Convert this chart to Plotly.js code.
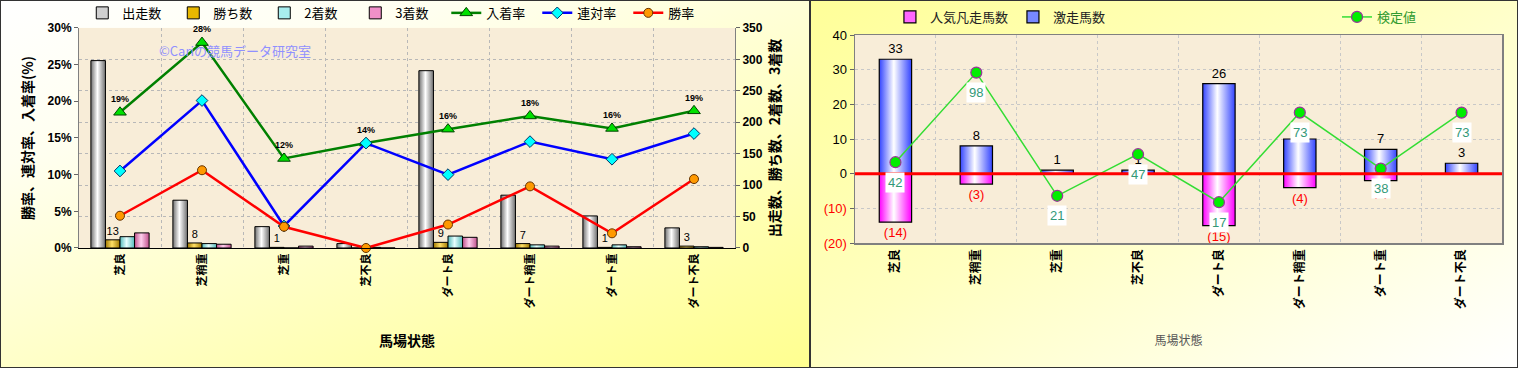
<!DOCTYPE html>
<html><head><meta charset="utf-8">
<script src="https://cdn.plot.ly/plotly-3.0.1.min.js"></script>
<style>
html,body{margin:0;padding:0;width:1518px;height:369px;overflow:hidden;background:#fff}
#frameL{position:absolute;left:0;top:0;width:808px;height:366px;border:1px solid #333;background:linear-gradient(160deg,#ffffff 0%,#fffff0 25%,#ffff90 100%)}
#frameR{position:absolute;left:810px;top:0;width:706px;height:366px;border:1px solid #333;background:linear-gradient(150deg,#ffff99 0%,#ffffc0 45%,#ffffff 100%)}
#left{position:absolute;left:0;top:0;width:810px;height:369px}
#right{position:absolute;left:810px;top:0;width:708px;height:369px}
</style></head>
<body>
<div id="frameL"></div><div id="frameR"></div>
<div id="left"></div><div id="right"></div>
<script>
// ---- data ----
const categories = ['芝良','芝稍重','芝重','芝不良','ダート良','ダート稍重','ダート重','ダート不良'];
const starters = [298, 76, 34, 7, 282, 84, 51, 32];
const wins = [13, 8, 1, 0, 9, 7, 1, 3];
const seconds = [18, 7, 0, 1, 19, 5, 5, 2];
const thirds = [24, 6, 3, 0, 17, 3, 2, 1];
const placeRate = [18.5, 28.0, 12.2, 14.3, 16.2, 18.0, 16.3, 18.7];
const placeRateLabels = ['19%','28%','12%','14%','16%','18%','16%','19%'];
const rentaiRate = [10.5, 20.1, 3.0, 14.3, 10.0, 14.5, 12.1, 15.6];
const winRate = [4.4, 10.6, 2.9, 0, 3.2, 8.4, 2.0, 9.4];

const hotCount = [33, 8, 1, 1, 26, 10, 7, 3];
const popularFail = [-14, -3, 0, 0, -15, -4, -2, 0];
const testValue = [42, 98, 21, 47, 17, 73, 38, 73];

const rightTickVals = [-20, -10, 0, 10, 20, 30, 40];
const rightTickText = ['<span style="color:#ff0000">(20)</span>','<span style="color:#ff0000">(10)</span>','0','10','20','30','40'];

const JP = '"Noto Sans CJK JP", "Liberation Sans", sans-serif';
const NUM = '"Liberation Sans", "Noto Sans CJK JP", sans-serif';

// ---- left chart ----
const barLine = {color:'#000', width:1};
const leftData = [
  {type:'bar', name:'出走数', x:categories, y:starters, yaxis:'y', marker:{color:'#d0d0d0', line:barLine}},
  {type:'bar', name:'勝ち数', x:categories, y:wins, yaxis:'y', marker:{color:'#e8b800', line:barLine},
   text: wins.map(v => v ? String(v) : ''), textposition:'outside', constraintext:'none', cliponaxis:false,
   textfont:{family:NUM, size:11, color:'#000'}},
  {type:'bar', name:'2着数', x:categories, y:seconds, yaxis:'y', marker:{color:'#a8eeee', line:barLine}},
  {type:'bar', name:'3着数', x:categories, y:thirds, yaxis:'y', marker:{color:'#f090c8', line:barLine}},
  {type:'scatter', mode:'lines+markers+text', name:'入着率', x:categories, y:placeRate, yaxis:'y2',
   line:{color:'#008000', width:2.5}, marker:{symbol:'triangle-up', size:11, color:'#00e000', line:{color:'#004400', width:1}},
   text:placeRateLabels, textposition:'top center', textfont:{family:NUM, size:9, color:'#000', weight:'bold'}, cliponaxis:false},
  {type:'scatter', mode:'lines+markers', name:'連対率', x:categories, y:rentaiRate, yaxis:'y2',
   line:{color:'#0000ff', width:2.5}, marker:{symbol:'diamond', size:9, color:'#00ffff', line:{color:'#003366', width:1}}, cliponaxis:false},
  {type:'scatter', mode:'lines+markers', name:'勝率', x:categories, y:winRate, yaxis:'y2',
   line:{color:'#ff0000', width:2.5}, marker:{symbol:'circle', size:9, color:'#ff9900', line:{color:'#663300', width:1}}, cliponaxis:false}
];
const leftLayout = {
  width:810, height:369, margin:{l:79, r:75, t:27, b:121},
  paper_bgcolor:'rgba(0,0,0,0)', plot_bgcolor:'#f8edd8',
  font:{family:JP, color:'#000'},
  barmode:'group', bargap:0.29, bargroupgap:0,
  showlegend:true,
  legend:{orientation:'h', x:0.005, xanchor:'left', yref:'container', y:0.965, yanchor:'middle', font:{size:13, family:JP}, entrywidth:46, bgcolor:'rgba(0,0,0,0)', traceorder:'normal'},
  xaxis:{type:'category', tickangle:-90, tickfont:{size:11, weight:'bold', family:JP}, tickson:'boundaries', ticks:'', showgrid:true, gridcolor:'#b8b8b8', griddash:'dot', showline:true, linecolor:'#000', linewidth:1, automargin:false,
    title:{text:'馬場状態', font:{size:14, weight:'bold', family:JP}, standoff:28}},
  yaxis:{side:'right', range:[0,350], dtick:50, tickfont:{size:12, weight:'bold', family:NUM}, ticks:'outside', ticklen:4, tickcolor:'#666', showgrid:true, gridcolor:'#b8b8b8', griddash:'dot', showline:true, linecolor:'#808080', zeroline:false, automargin:false,
    title:{text:'出走数、勝ち数、2着数、3着数', font:{size:14, weight:'bold', family:JP}, standoff:8}},
  yaxis2:{overlaying:'y', side:'left', range:[0,30], dtick:5, ticksuffix:'%', tickfont:{size:12, weight:'bold', family:NUM}, ticks:'outside', ticklen:4, tickcolor:'#666', showgrid:false, showline:true, linecolor:'#808080', zeroline:false, automargin:false,
    title:{text:'勝率、連対率、入着率(%)', font:{size:14, weight:'bold', family:JP}, standoff:10}},
  annotations:[{xref:'paper', yref:'paper', x:0.238, xanchor:'center', y:0.896, yanchor:'middle', text:'©Cariの競馬データ研究室', showarrow:false, font:{size:13, color:'#9090ff', family:JP}}]
};

// ---- right chart ----
const rightData = [
  {type:'bar', name:'人気凡走馬数', x:categories, y:popularFail, width:0.4, marker:{color:'#ff66ff', line:{color:'#000', width:1.2}},
   text: popularFail.map(v => v < 0 ? '(' + (-v) + ')' : ''), textposition:'outside', constraintext:'none', cliponaxis:false,
   textfont:{family:NUM, size:13, color:'#ff0000'}, legend:'legend'},
  {type:'bar', name:'激走馬数', x:categories, y:hotCount, width:0.4, marker:{color:'#7788ff', line:{color:'#000', width:1.2}},
   text: hotCount.map(v => v > 0 ? String(v) : ''), textposition:'outside', constraintext:'none', cliponaxis:false,
   textfont:{family:NUM, size:13, color:'#000'}, legend:'legend'},
  {type:'scatter', mode:'lines+markers', name:'検定値', x:categories, y:testValue, yaxis:'y2',
   line:{color:'#33dd33', width:1.5}, marker:{symbol:'circle', size:11, color:'#00ee00', line:{color:'#993399', width:1.2}}, cliponaxis:false, legend:'legend2'}
];
const rightLayout = {
  width:708, height:369, margin:{l:45, r:16, t:35, b:126},
  paper_bgcolor:'rgba(0,0,0,0)', plot_bgcolor:'#f8edd8',
  font:{family:JP, color:'#000'},
  barmode:'relative',
  showlegend:true,
  legend:{orientation:'h', x:0.054, xanchor:'left', yref:'container', y:0.954, yanchor:'middle', font:{size:13, family:JP, color:'#222'}, bgcolor:'rgba(0,0,0,0)'},
  legend2:{orientation:'h', x:0.745, xanchor:'left', yref:'container', y:0.954, yanchor:'middle', font:{size:13, family:JP, color:'#2f9a2f'}, bgcolor:'rgba(0,0,0,0)'},
  xaxis:{type:'category', tickangle:-90, tickfont:{size:12, weight:'bold', family:JP}, tickson:'boundaries', ticks:'', showgrid:true, gridcolor:'#c8c8c8', griddash:'dot', showline:true, linecolor:'#808080', linewidth:1.5, mirror:true, automargin:false,
    title:{text:'馬場状態', font:{size:12, color:'#555', family:JP}, standoff:28}},
  yaxis:{range:[-20,40], tickvals:rightTickVals, ticktext:rightTickText, tickfont:{size:13, family:NUM}, ticks:'outside', ticklen:4, tickcolor:'#666', showgrid:true, gridcolor:'#c8c8c8', griddash:'dot', showline:true, linecolor:'#808080', linewidth:1.5, mirror:true, zeroline:false, automargin:false},
  yaxis2:{overlaying:'y', range:[-8.5,121.5], visible:false},
  shapes:[{type:'line', xref:'paper', x0:0, x1:1, yref:'y', y0:0, y1:0, line:{color:'#ff0000', width:3}, layer:'above'}],
  annotations: testValue.map((v,i) => ({x:categories[i], y:v, xref:'x', yref:'y2', text:String(v), showarrow:false, yshift:-20,
    bgcolor:'#ffffff', borderpad:2, font:{size:13, color:'#339977', family:NUM}}))
};

const cfg = {displayModeBar:false, staticPlot:true};

function applyGradients(gd, specs){
  const ns = 'http://www.w3.org/2000/svg';
  const svg = gd.querySelector('svg.main-svg');
  let defs = svg.querySelector('defs');
  if(!defs){ defs = document.createElementNS(ns,'defs'); svg.insertBefore(defs, svg.firstChild); }
  const traces = gd.querySelectorAll('.barlayer .trace');
  specs.forEach((s, i) => {
    const lg = document.createElementNS(ns,'linearGradient');
    lg.setAttribute('id', s.id);
    lg.setAttribute('x1','0'); lg.setAttribute('y1','0'); lg.setAttribute('x2','1'); lg.setAttribute('y2','0');
    [[0,s.edge],[0.45,s.mid],[1,s.edge]].forEach(([o,c]) => {
      const st = document.createElementNS(ns,'stop');
      st.setAttribute('offset', o); st.setAttribute('stop-color', c);
      lg.appendChild(st);
    });
    defs.appendChild(lg);
    if(traces[i]) traces[i].querySelectorAll('path').forEach(p => { p.style.fill = 'url(#' + s.id + ')'; });
  });
}

Plotly.newPlot('left', leftData, leftLayout, cfg).then(gd => {
  applyGradients(gd, [
    {id:'gL0', edge:'#707070', mid:'#ffffff'},
    {id:'gL1', edge:'#a07800', mid:'#ffe066'},
    {id:'gL2', edge:'#55bbbb', mid:'#e8ffff'},
    {id:'gL3', edge:'#c0508c', mid:'#ffd0ee'}
  ]);
});
Plotly.newPlot('right', rightData, rightLayout, cfg).then(gd => {
  applyGradients(gd, [
    {id:'gR0', edge:'#ff00ff', mid:'#ffffff'},
    {id:'gR1', edge:'#3344ff', mid:'#ffffff'}
  ]);
});
</script>
</body></html>
